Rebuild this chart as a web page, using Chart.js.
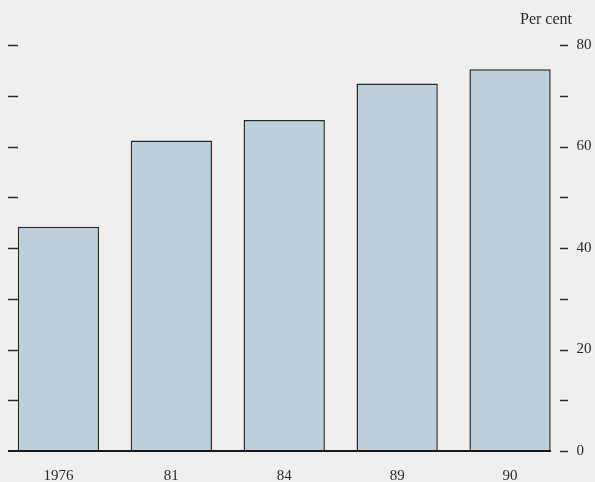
<!DOCTYPE html>
<html>
<head>
<meta charset="utf-8">
<script src="https://cdn.jsdelivr.net/npm/chart.js@4"></script>
<style>
html,body{margin:0;padding:0;background:#efefee;}
#wrap{width:595px;height:482px;position:relative;}
</style>
</head>
<body>
<div id="wrap"><canvas id="c"></canvas></div>
<script>
const categories = ["1976", "81", "84", "89", "90"];
const values = [44.2, 61.2, 65.2, 72.4, 75.2];
const tickValues = [0, 10, 20, 30, 40, 50, 60, 70, 80];
const tickLabels = {0: "0", 20: "20", 40: "40", 60: "60", 80: "80"};
const unitLabel = "Per cent";

const decor = {
  id: 'decor',
  afterDatasetsDraw(chart) {
    const ctx = chart.ctx;
    const y = chart.scales.y;
    ctx.save();
    ctx.strokeStyle = '#2a2a2a';
    ctx.lineWidth = 1.5;
    tickValues.forEach(v => {
      const py = Math.round(y.getPixelForValue(v)) + 0.5;
      if (v > 0) {
        ctx.beginPath(); ctx.moveTo(8, py); ctx.lineTo(18, py); ctx.stroke();
      }
      ctx.beginPath(); ctx.moveTo(560, py); ctx.lineTo(568, py); ctx.stroke();
    });
    const p0 = y.getPixelForValue(0);
    ctx.lineWidth = 2.2;
    ctx.strokeStyle = '#1a1a1a';
    ctx.beginPath(); ctx.moveTo(8, p0); ctx.lineTo(551, p0); ctx.stroke();
    ctx.fillStyle = '#2a2a2a';
    ctx.font = '16px "Liberation Serif", "DejaVu Serif", serif';
    ctx.textAlign = 'right';
    ctx.textBaseline = 'middle';
    ctx.fillText(unitLabel, 572, 20);
    ctx.restore();
  }
};

new Chart(document.getElementById('c'), {
  type: 'bar',
  data: {
    labels: categories,
    datasets: [{
      data: values,
      backgroundColor: '#bdd0d9',
      borderColor: '#2a2a2a',
      borderWidth: {top: 1.5, left: 1.5, right: 1.5, bottom: 0},
      borderSkipped: 'bottom',
      barPercentage: 0.8,
      categoryPercentage: 0.9
    }]
  },
  options: {
    responsive: true,
    maintainAspectRatio: false,
    animation: false,
    devicePixelRatio: 1,
    layout: {padding: {top: 45, left: 2, right: 0, bottom: 0}},
    plugins: {legend: {display: false}, tooltip: {enabled: false}},
    scales: {
      x: {
        grid: {display: false, drawTicks: false},
        border: {display: false},
        afterFit(s) { s.height = 31; },
        ticks: {
          color: '#2a2a2a',
          padding: 16,
          font: {family: '"Liberation Serif", "DejaVu Serif", serif', size: 15}
        }
      },
      y: {
        position: 'right',
        min: 0, max: 80,
        grid: {display: false, drawTicks: false},
        border: {display: false},
        afterFit(s) { s.width = 28.5; },
        afterBuildTicks(s) { s.ticks = tickValues.map(v => ({value: v})); },
        ticks: {
          color: '#2a2a2a',
          padding: 10,
          font: {family: '"Liberation Serif", "DejaVu Serif", serif', size: 15},
          callback: v => (tickLabels[v] !== undefined ? tickLabels[v] : '')
        }
      }
    }
  },
  plugins: [decor]
});
</script>
</body>
</html>
